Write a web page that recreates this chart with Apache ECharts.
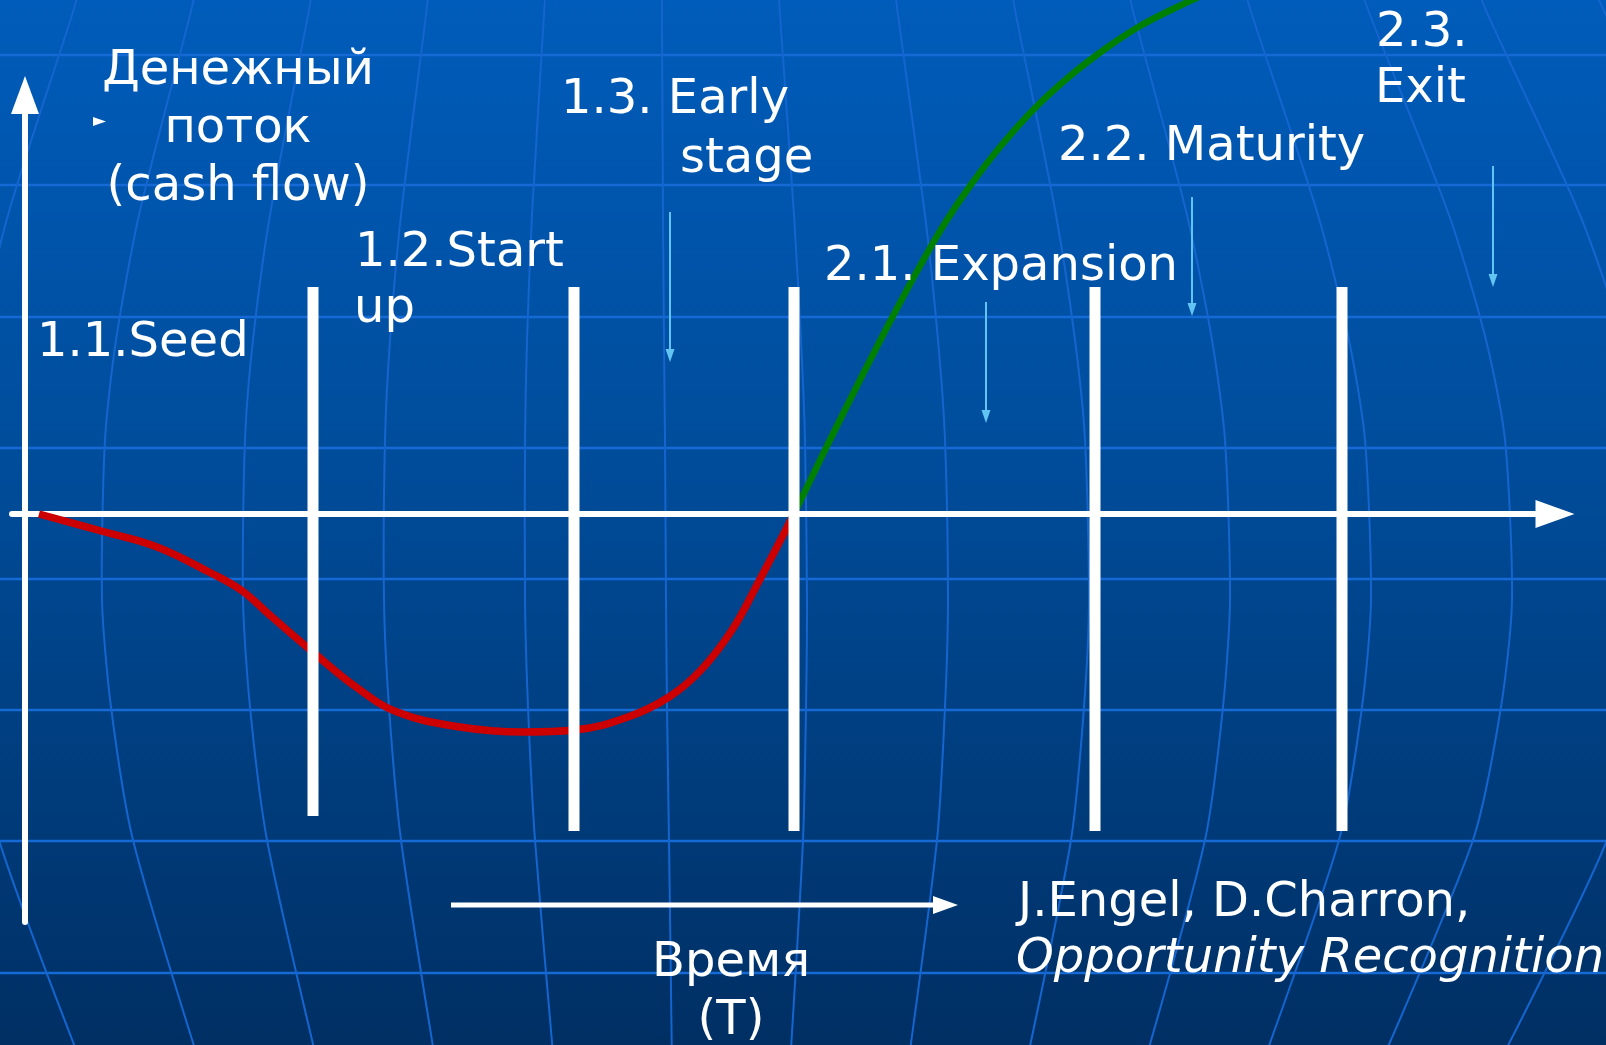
<!DOCTYPE html>
<html>
<head>
<meta charset="utf-8">
<title>Денежный поток по стадиям развития компании</title>
<script src="https://cdn.jsdelivr.net/npm/echarts@6/dist/echarts.min.js"></script>
<style>
  html, body { margin: 0; padding: 0; background: #003f80; }
  #chart { width: 1606px; height: 1045px; }
</style>
</head>
<body>
<div id="chart"></div>
<script>
// ---- Data (time on x, cash flow on y; arbitrary units) ----

// Stage boundaries on the time axis and the cash-flow extent of each divider
const boundaryTime = [28.8, 54.9, 76.9, 107.0, 131.7];
const boundaryTop = [22.7, 22.7, 22.7, 22.7, 22.7];
const boundaryBottom = [-30.2, -31.7, -31.7, -31.7, -31.7];

// Negative cash flow: seed, start-up, early stage
const burnTime = [1.4, 8.0, 13.2, 18.4, 21.6, 24.7, 28.9, 33.1, 37.2, 43.5, 49.8, 55.0, 60.3, 64.4, 67.6, 70.7, 73.3, 76.9];
const burnFlow = [0, -1.8, -3.3, -5.8, -7.6, -10.3, -13.9, -17.3, -19.8, -21.3, -21.8, -21.6, -20.3, -18.3, -15.6, -11.6, -6.9, 0];

// Positive cash flow: expansion onwards
const growthTime = [76.9, 80.2, 83.5, 86.8, 89.5, 92.0, 94.5, 97.5, 101.0, 104.5, 108.0, 111.5, 115.0, 118.5];
const growthFlow = [0, 6.8, 13.4, 19.8, 24.8, 29.1, 32.8, 36.7, 40.6, 43.8, 46.5, 48.8, 50.6, 52.2];

// Small pointers under the stage names (time, from, to)
const pointerTime = [64.5, 96.1, 116.7, 146.8];
const pointerFrom = [30.2, 21.2, 31.7, 34.8];
const pointerTo = [15.2, 9.1, 19.8, 22.7];

// Time direction arrow below the axis
const timeArrowFrom = 42.6;
const timeArrowTo = 93.3;
const timeArrowLevel = -39.1;

// Text
const axisTitleY = ['Денежный', 'поток', '(cash flow)'];
const axisTitleX = ['Время', '(T)'];
const stageLabels = ['1.1.Seed', '1.2.Start', 'up', '1.3. Early', 'stage', '2.1. Expansion', '2.2. Maturity', '2.3.', 'Exit'];
const sourceNote = ['J.Engel, D.Charron,', 'Opportunity Recognition'];

// ---- Layout / style ----
const W = 1606, H = 1045;
const FONT = '"DejaVu Sans", Verdana, sans-serif';
const WHITE = '#ffffff';
const PARALLEL = '#166ad6';
const MERIDIAN = '#1565cf';
const POINTER = '#62c4f2';

// Globe background: parallels and meridians
function globeGraphics() {
  const els = [];
  els.push({
    type: 'rect', z: -20, silent: true,
    shape: { x: 0, y: 0, width: W, height: H },
    style: {
      fill: new echarts.graphic.LinearGradient(0, 0, 0, 1, [
        { offset: 0, color: '#005cba' },
        { offset: 0.45, color: '#004c9a' },
        { offset: 1, color: '#002f63' }
      ])
    }
  });
  const parallels = [55, 185, 317, 448, 579, 710, 841, 973];
  parallels.forEach(function (py) {
    els.push({
      type: 'line', z: -19, silent: true,
      shape: { x1: 0, y1: py, x2: W, y2: py },
      style: { stroke: PARALLEL, lineWidth: 2.6 }
    });
  });
  // meridians: centre line and spacing at a few heights
  const ky = [-20, 15, 215, 340, 440, 600, 707, 840, 1065];
  const kc = [662, 662, 663, 664, 665, 666, 667, 669, 672];
  const ks = [116, 118, 131, 137, 140, 141, 139, 134, 118];
  for (let k = -6; k <= 8; k++) {
    const pts = ky.map(function (y, i) { return [kc[i] + k * ks[i], y]; });
    els.push({
      type: 'polyline', z: -19, silent: true,
      shape: { points: pts, smooth: 0.25 },
      style: { stroke: MERIDIAN, lineWidth: 2, fill: null }
    });
  }
  return els;
}

function textEl(text, x, y, opts) {
  opts = opts || {};
  return {
    type: 'text', z: 50, silent: true, x: x, y: y,
    style: {
      text: text,
      fill: WHITE,
      fontSize: 48,
      fontFamily: FONT,
      fontStyle: opts.italic ? 'italic' : 'normal',
      lineHeight: opts.lineHeight || 58,
      align: opts.align || 'left',
      textAlign: opts.align || 'left',
      verticalAlign: 'middle',
      textVerticalAlign: 'middle'
    }
  };
}

function textGraphics() {
  const els = [];
  els.push(textEl(axisTitleY.join('\n'), 238, 130, { align: 'center', lineHeight: 58 }));
  // bullet marker next to the axis title
  els.push({
    type: 'polygon', z: 50, silent: true,
    shape: { points: [[93, 117], [106, 121.5], [93, 126]] },
    style: { fill: WHITE }
  });
  const stagePos = [[37, 344], [355, 254], [354, 310], [561, 101], [680, 160], [824, 268], [1058, 148], [1376, 34], [1375, 90]];
  stageLabels.forEach(function (s, i) { els.push(textEl(s, stagePos[i][0], stagePos[i][1])); });
  els.push(textEl(axisTitleX[0], 731, 964, { align: 'center' }));
  els.push(textEl(axisTitleX[1], 731, 1022, { align: 'center' }));
  els.push(textEl(sourceNote[0], 1018, 904));
  els.push(textEl(sourceNote[1], 1016, 960, { italic: true }));
  return els;
}

const chart = echarts.init(document.getElementById('chart'), null, { renderer: 'canvas', width: W, height: H });

chart.setOption({
  animation: false,
  backgroundColor: '#003f80',
  grid: { left: 12, right: 51, top: 95, bottom: 123, containLabel: false },
  xAxis: {
    type: 'value', min: -1.3, max: 153.0,
    axisLine: {
      onZero: true, symbol: ['none', 'triangle'], symbolSize: [28, 39],
      lineStyle: { color: WHITE, width: 6 }
    },
    axisTick: { show: false }, axisLabel: { show: false }, splitLine: { show: false }
  },
  yAxis: {
    type: 'value', min: -40.8, max: 41.9,
    axisLine: {
      onZero: true, symbol: ['none', 'triangle'], symbolSize: [28, 38],
      lineStyle: { color: WHITE, width: 6 }
    },
    axisTick: { show: false }, axisLabel: { show: false }, splitLine: { show: false }
  },
  graphic: { elements: globeGraphics().concat(textGraphics()) },
  series: [
    {
      name: 'burn', type: 'line', z: 2, clip: false, smooth: 0.4, symbol: 'none',
      data: burnTime.map(function (t, i) { return [t, burnFlow[i]]; }),
      lineStyle: { color: '#cc0000', width: 7.5, cap: 'butt' }
    },
    {
      name: 'growth', type: 'line', z: 2, clip: false, smooth: 0.4, symbol: 'none',
      data: growthTime.map(function (t, i) { return [t, growthFlow[i]]; }),
      lineStyle: { color: '#008000', width: 6.5, cap: 'butt' }
    },
    {
      name: 'boundaries', type: 'custom', z: 3,
      data: boundaryTime.map(function (t, i) { return [t, boundaryTop[i], boundaryBottom[i]]; }),
      renderItem: function (params, api) {
        const a = api.coord([api.value(0), api.value(1)]);
        const b = api.coord([api.value(0), api.value(2)]);
        return {
          type: 'rect',
          shape: { x: a[0] - 5.5, y: a[1], width: 11, height: b[1] - a[1] },
          style: { fill: WHITE }
        };
      }
    },
    {
      name: 'pointers', type: 'custom', z: 4,
      data: pointerTime.map(function (t, i) { return [t, pointerFrom[i], pointerTo[i]]; }),
      renderItem: function (params, api) {
        const a = api.coord([api.value(0), api.value(1)]);
        const b = api.coord([api.value(0), api.value(2)]);
        const head = 13, half = 4.5;
        return {
          type: 'group',
          children: [
            { type: 'line', shape: { x1: a[0], y1: a[1], x2: b[0], y2: b[1] - head + 2 }, style: { stroke: POINTER, lineWidth: 2 } },
            { type: 'polygon', shape: { points: [[b[0] - half, b[1] - head], [b[0] + half, b[1] - head], [b[0], b[1]]] }, style: { fill: POINTER } }
          ]
        };
      }
    },
    {
      name: 'time', type: 'custom', z: 4,
      data: [[timeArrowFrom, timeArrowTo, timeArrowLevel]],
      renderItem: function (params, api) {
        const a = api.coord([api.value(0), api.value(2)]);
        const b = api.coord([api.value(1), api.value(2)]);
        const head = 25, half = 9;
        return {
          type: 'group',
          children: [
            { type: 'line', shape: { x1: a[0], y1: a[1], x2: b[0] - head + 1, y2: b[1] }, style: { stroke: WHITE, lineWidth: 5 } },
            { type: 'polygon', shape: { points: [[b[0] - head, b[1] - half], [b[0], b[1]], [b[0] - head, b[1] + half]] }, style: { fill: WHITE } }
          ]
        };
      }
    }
  ]
});
</script>
</body>
</html>
